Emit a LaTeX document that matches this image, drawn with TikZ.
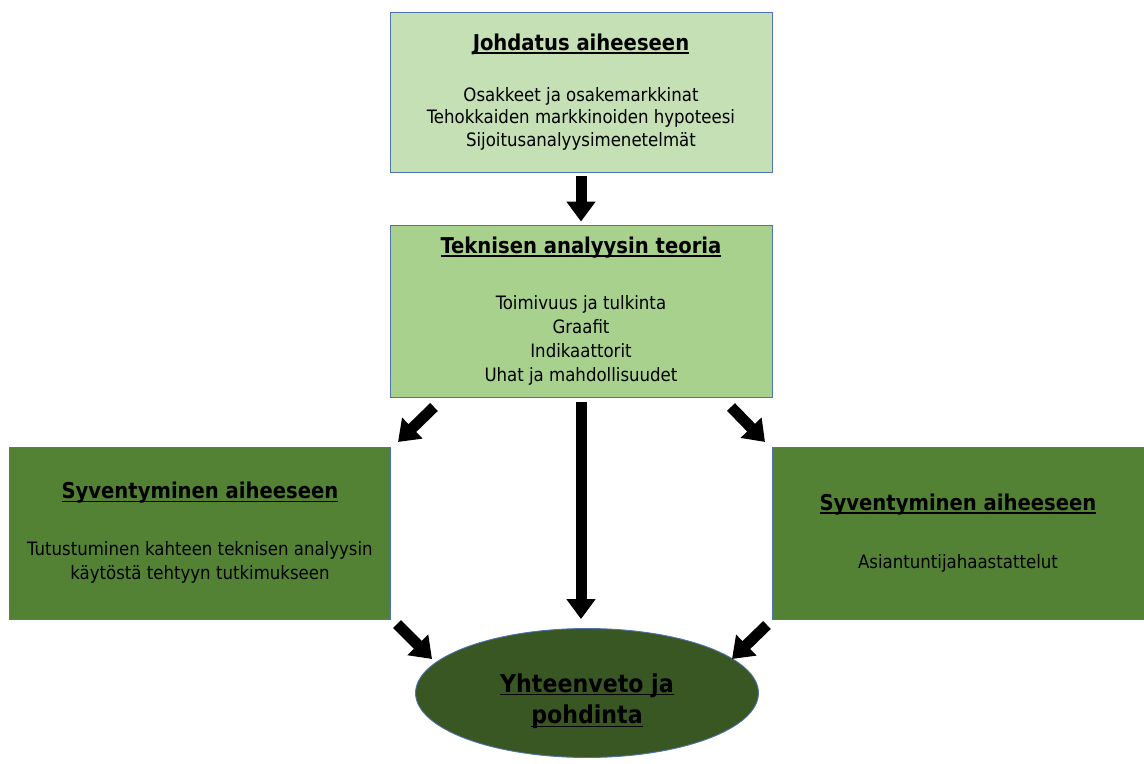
\documentclass[tikz,border=0pt]{standalone}
\usepackage{fontspec}
\setmainfont{DejaVu Sans Condensed}
\usetikzlibrary{positioning, shapes.geometric, arrows.meta}
\definecolor{introGreen}{HTML}{C5E0B4}
\definecolor{theoryGreen}{HTML}{A9D18E}
\definecolor{deepGreen}{HTML}{548235}
\definecolor{sumGreen}{HTML}{385723}
\definecolor{edgeBlue}{HTML}{4F72B0}
\newcommand{\ulbar}[1]{\setbox0=\hbox{#1}\rlap{\rule[-1.8pt]{\wd0}{0.8pt}}\box0}
\newcommand{\boxtitle}[1]{{\fontsize{12.4}{14}\selectfont\bfseries\ulbar{#1}}}
\tikzset{
  box/.style={rectangle, draw=edgeBlue, line width=0.5pt, align=center, inner sep=0pt},
  fatarrow/.style={line width=0.22cm, -{Triangle[length=0.4cm, width=0.56cm]}}
}

\begin{document}
\begin{tikzpicture}[x=0.02cm, y=-0.02cm, every node/.style={font=\fontsize{10.5}{12.8}\selectfont}]
    \useasboundingbox (0,0) rectangle (1144,764);
    % Define nodes
    \node[box, fill=introGreen, minimum width=7.64cm, minimum height=3.2cm](intro) at (581,92){\boxtitle{Johdatus aiheeseen}\\[16pt]Osakkeet ja osakemarkkinat\\Tehokkaiden markkinoiden hypoteesi\\Sijoitusanalyysimenetelmät};
    \node[box, fill=theoryGreen, minimum width=7.64cm, minimum height=3.44cm, font=\fontsize{10.5}{13.7}\selectfont](theory) at (581,311){\boxtitle{Teknisen analyysin teoria}\\[18pt]Toimivuus ja tulkinta\\Graafit\\Indikaattorit\\Uhat ja mahdollisuudet};
    \node[box, fill=deepGreen, minimum width=7.62cm, minimum height=3.44cm, font=\fontsize{10.5}{14}\selectfont](studies) at (200,533){\boxtitle{Syventyminen aiheeseen}\\[18pt]Tutustuminen kahteen teknisen analyysin\\käytöstä tehtyyn tutkimukseen};
    \node[box, fill=deepGreen, minimum width=7.44cm, minimum height=3.44cm](interviews) at (958,533){\boxtitle{Syventyminen aiheeseen}\\[20pt]Asiantuntijahaastattelut};
    \node[ellipse, draw=edgeBlue, line width=0.5pt, fill=sumGreen, inner sep=0pt, minimum width=6.86cm, minimum height=2.58cm, align=center, font=\fontsize{14}{18}\selectfont\bfseries](summary) at (587,693){\rule{0pt}{20pt}\ulbar{Yhteenveto ja}\\\ulbar{pohdinta}};
    % free ends of the diagonal arrows
    \coordinate (ulA) at (434,407);
    \coordinate (ulB) at (398,442);
    \coordinate (urA) at (731,407);
    \coordinate (urB) at (765,442);
    \coordinate (llA) at (397,624);
    \coordinate (llB) at (432,659);
    \coordinate (lrA) at (767,625);
    \coordinate (lrB) at (732,659);
    % arrows
    \draw[fatarrow, shorten <=0.08cm, shorten >=0.06cm] (intro.south) -- (theory.north);
    \draw[fatarrow, shorten <=0.1cm, shorten >=0.18cm] (theory.south) -- (theory.south |- summary.north);
    \draw[fatarrow] (ulA) -- (ulB);
    \draw[fatarrow] (urA) -- (urB);
    \draw[fatarrow] (llA) -- (llB);
    \draw[fatarrow] (lrA) -- (lrB);
\end{tikzpicture}
\end{document}
